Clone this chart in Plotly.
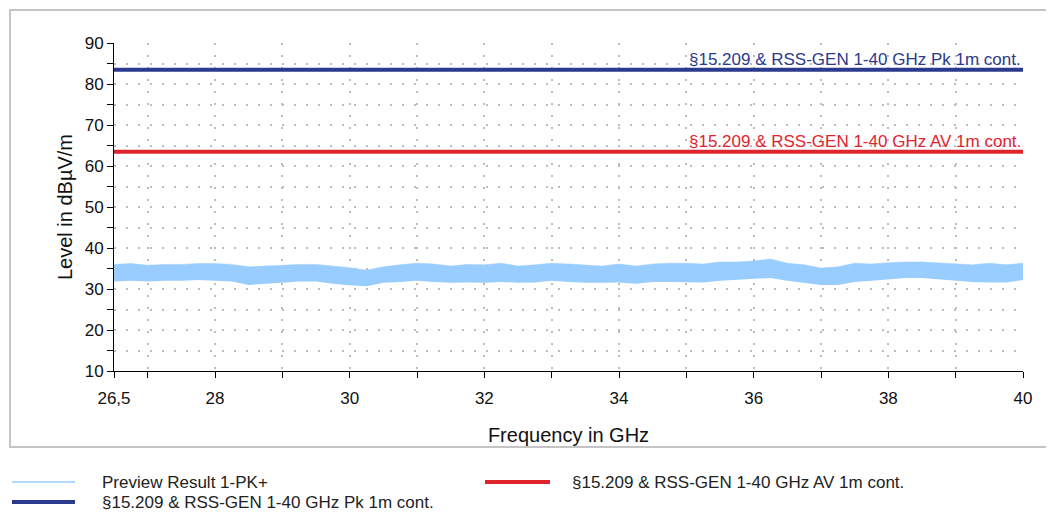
import plotly.graph_objects as go

# Preview Result 1-PK+ : envelope of the noise band
freq = [26.5, 26.75, 27.0, 27.25, 27.5, 27.75, 28.0, 28.25, 28.5, 28.75,
        29.0, 29.25, 29.5, 29.75, 30.0, 30.25, 30.5, 30.75, 31.0, 31.25,
        31.5, 31.75, 32.0, 32.25, 32.5, 32.75, 33.0, 33.25, 33.5, 33.75,
        34.0, 34.25, 34.5, 34.75, 35.0, 35.25, 35.5, 35.75, 36.0, 36.25,
        36.5, 36.75, 37.0, 37.25, 37.5, 37.75, 38.0, 38.25, 38.5, 38.75,
        39.0, 39.25, 39.5, 39.75, 40.0]
pk_upper = [36.0, 36.2, 35.8, 36.0, 36.0, 36.2, 36.2, 36.0, 35.4, 35.6,
            35.8, 36.0, 36.0, 35.6, 35.2, 34.6, 35.4, 35.9, 36.3, 36.1,
            35.6, 36.0, 35.9, 36.3, 35.6, 35.9, 36.3, 36.1, 35.9, 35.6,
            36.1, 35.6, 36.1, 36.3, 36.3, 36.1, 36.6, 36.6, 36.8, 37.3,
            36.3, 35.9, 35.1, 35.4, 36.3, 36.1, 36.4, 36.6, 36.6, 36.4,
            36.1, 35.9, 36.3, 35.9, 36.3]
pk_lower = [31.8, 32.0, 31.8, 32.0, 32.0, 32.2, 32.0, 31.8, 31.0, 31.2,
            31.5, 31.8, 31.8, 31.3, 30.9, 30.7, 31.5, 31.7, 32.0, 31.7,
            31.5, 31.6, 31.5, 31.7, 31.5, 31.6, 32.0, 31.7, 31.5, 31.5,
            31.6, 31.3, 31.7, 31.7, 31.7, 31.6, 32.0, 32.2, 32.4, 32.7,
            32.0, 31.5, 31.0, 31.0, 31.7, 32.0, 32.4, 32.7, 32.7, 32.4,
            32.0, 31.7, 31.6, 31.6, 32.2]

# limit lines
limit_freq = [26.5, 40.0]
limit_pk = [83.5, 83.5]
limit_av = [63.5, 63.5]

x_tickvals = [26.5, 27, 28, 29, 30, 31, 32, 33, 34, 35, 36, 37, 38, 39, 40]
x_ticktext = ["26,5", "", "28", "", "30", "", "32", "", "34", "", "36", "", "38", "", "40"]
y_tickvals = [10, 15, 20, 25, 30, 35, 40, 45, 50, 55, 60, 65, 70, 75, 80, 85, 90]
y_ticktext = ["10", "", "20", "", "30", "", "40", "", "50", "", "60", "", "70", "", "80", "", "90"]

name_prev = "Preview Result 1-PK+"
name_pk = "§15.209 & RSS-GEN 1-40 GHz Pk 1m cont."
name_av = "§15.209 & RSS-GEN 1-40 GHz AV 1m cont."

c_prev = "#99ccff"
c_pk = "#2b3a8c"
c_av = "#e0242e"
FONT = "Liberation Sans, Arial, sans-serif"

fig = go.Figure()
fig.add_trace(go.Scatter(x=freq, y=pk_lower, mode="lines",
                         line=dict(width=0, color=c_prev), showlegend=False,
                         hoverinfo="skip"))
fig.add_trace(go.Scatter(x=freq, y=pk_upper, mode="lines", fill="tonexty",
                         fillcolor=c_prev, line=dict(width=0.5, color=c_prev),
                         name=name_prev, showlegend=False))
fig.add_trace(go.Scatter(x=limit_freq, y=limit_pk, mode="lines",
                         line=dict(width=4, color=c_pk), name=name_pk,
                         showlegend=False))
fig.add_trace(go.Scatter(x=limit_freq, y=limit_av, mode="lines",
                         line=dict(width=4, color=c_av), name=name_av,
                         showlegend=False))

# limit labels sitting on the lines
for txt, yv, col in [(name_pk, limit_pk[-1], c_pk), (name_av, limit_av[-1], c_av)]:
    fig.add_annotation(x=limit_freq[-1], y=yv, text=txt, showarrow=False,
                       xanchor="right", yanchor="bottom", yshift=-1,
                       font=dict(family=FONT, size=17, color=col))

# page body adds 8px, so layout is worked out in screen pixels minus 8
OFF = 8
W, H = 1054 - OFF, 515 - OFF
L, R, T, B = 114 - OFF, 1054 - 1023, 43 - OFF, 515 - 371
pw, ph = W - L - R, H - T - B


def px(x):
    return (x - OFF - L) / pw


def py(y):
    return (H - B - (y - OFF)) / ph


fig.add_shape(type="rect", xref="paper", yref="paper",
              x0=px(10), x1=px(1049), y0=py(447), y1=py(10),
              line=dict(color="#c4c4c4", width=2), layer="below")

# legend below the frame
legend_items = [
    (name_prev, c_prev, 1.5, 12, 75, 100, 482),
    (name_av, c_av, 4, 485, 550, 570, 482),
    (name_pk, c_pk, 4, 12, 75, 100, 502),
]
for txt, col, lw, x0, x1, xt, yy in legend_items:
    fig.add_shape(type="line", xref="paper", yref="paper",
                  x0=px(x0), x1=px(x1), y0=py(yy), y1=py(yy),
                  line=dict(color=col, width=lw))
    fig.add_annotation(xref="paper", yref="paper", x=px(xt), y=py(yy),
                       text=txt, showarrow=False, xanchor="left",
                       yanchor="middle",
                       font=dict(family=FONT, size=17, color="#222222"))

fig.update_layout(
    width=W, height=H,
    margin=dict(l=L, r=R, t=T, b=B),
    paper_bgcolor="white", plot_bgcolor="white",
    font=dict(family=FONT, color="#111111"),
    showlegend=False,
    xaxis=dict(
        range=[26.5, 40], tickmode="array", tickvals=x_tickvals,
        ticktext=x_ticktext, ticks="outside", ticklen=6, tickcolor="black",
        tickfont=dict(size=17), ticklabelstandoff=6, showline=True,
        linecolor="black", linewidth=1, showgrid=True, gridcolor="#bcbcbc",
        gridwidth=1.5, griddash="2px,10px", zeroline=False,
        title=dict(text="Frequency in GHz", font=dict(size=20), standoff=20),
    ),
    yaxis=dict(
        range=[10, 90], tickmode="array", tickvals=y_tickvals,
        ticktext=y_ticktext, ticks="outside", ticklen=6, tickcolor="black",
        tickfont=dict(size=17), showline=True, linecolor="black",
        linewidth=1, showgrid=True, gridcolor="#bcbcbc", gridwidth=1.5,
        griddash="2px,10px", zeroline=False,
        title=dict(text="Level in dBµV/m", font=dict(size=20), standoff=6),
    ),
)

fig.write_html("out.html")
